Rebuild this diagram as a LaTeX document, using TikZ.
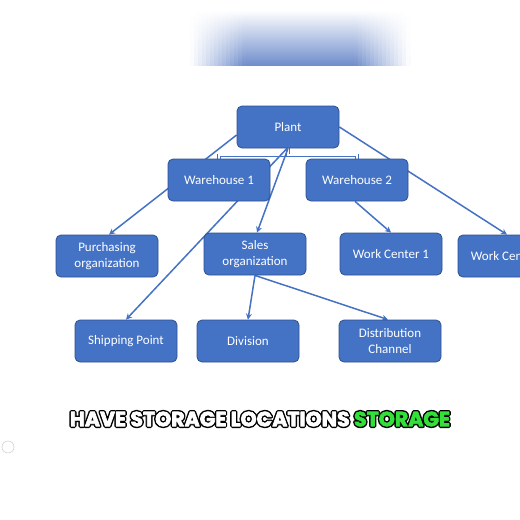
\documentclass[tikz,border=0pt]{standalone}
\usepackage{fontspec}
\setmainfont{Carlito}
\newfontfamily\capfont{Poppins}
\usetikzlibrary{arrows.meta,calc,backgrounds}
\definecolor{boxblue}{HTML}{4472C4}
\definecolor{boxedge}{HTML}{2F528F}
\definecolor{lineblue}{HTML}{4472C4}
\definecolor{blurblue}{RGB}{112,142,204}
\definecolor{capgreen}{HTML}{33E03A}
\begin{document}
\begin{tikzpicture}[x=1pt,y=-1pt,
  box/.style={draw=boxedge, line width=0.8pt, fill=boxblue, rounded corners=5pt,
    minimum width=102pt, minimum height=42pt, text=white,
    font=\fontsize{13}{15.5}\selectfont, align=center, inner sep=2pt},
  conn/.style={draw=lineblue, line width=1.5pt},
  arr/.style={conn, -{Stealth[length=6pt,width=6pt]}},
  bracket/.style={draw=lineblue, line width=0.9pt, double=white, double distance=2pt},
  captext/.style={font=\capfont\bfseries\fontsize{20.5}{24}\selectfont, inner sep=0pt}]
\useasboundingbox (0,0) rectangle (520,520);
\clip (0,0) rectangle (520,520);
% top blurred strip, built of thin vertical shaded strips
\foreach \xx in {190,194,...,406} {
  \pgfmathsetmacro\pp{100*max(0,min(1,min((\xx+2-190)/55,(410-\xx-2)/55)))}
  \shade[top color=white, bottom color=blurblue!\pp!white] (\xx,10) rectangle (\xx+4.6,65);
}
% nodes
\node[box] (plant) at (288,127) {Plant};
\node[box] (w1) at (219,180) {Warehouse 1};
\node[box] (w2) at (357,180) {Warehouse 2};
\node[box] (purch) at (107,256) {Purchasing\\organization};
\node[box] (sales) at (255,254) {Sales\\organization};
\node[box] (wc1) at (391,254) {Work Center 1};
\node[box] (wc2) at (509,256) {Work Center 2};
\node[box] (ship) at (126,341) {Shipping Point};
\node[box] (div) at (248,341) {Division};
\node[box] (dist) at (390,341) {Distribution\\Channel};
% connectors
\begin{scope}[on background layer]
\fill[white] (0,0) rectangle (520,520);
\draw[bracket] (plant.south) -- ++(0,7) -| (w1.north);
\draw[bracket] (plant.south) -- ++(0,7) -| (w2.north);
\draw[arr] ([yshift=-8pt]plant.west) -- ([xshift=2pt]purch.north);
\draw[arr] ([xshift=-1pt]plant.south) -- (ship.north);
\draw[arr] (plant.south) -- ([xshift=2pt]sales.north);
\draw[arr] (plant.east) -- ([xshift=-2pt]wc2.north);
\draw[arr] ([xshift=-2pt]w2.south) -- (wc1.north);
\draw[arr] (sales.south) -- (div.north);
\draw[arr] (sales.south) -- ([xshift=-2pt]dist.north);
\end{scope}
% caption: outlined heavy text
\coordinate (capc) at (260,419);
\node[captext] (capshadow) at (capc) {\textcolor{black}{\special{pdf:code 2 Tr 3.6 w 1 j}HAVE STORAGE LOCATIONS STORAGE\special{pdf:code 0 Tr 1 w}}};
\node[captext] (caption) at (capc) {\special{pdf:code 2 Tr 0.7 w 1 j}\textcolor{white}{HAVE STORAGE LOCATIONS} \textcolor{capgreen}{STORAGE}\special{pdf:code 0 Tr 1 w}};
% small circle at left
\draw[gray!35, line width=0.6pt] (8,447) circle (6);
\end{tikzpicture}
\end{document}
